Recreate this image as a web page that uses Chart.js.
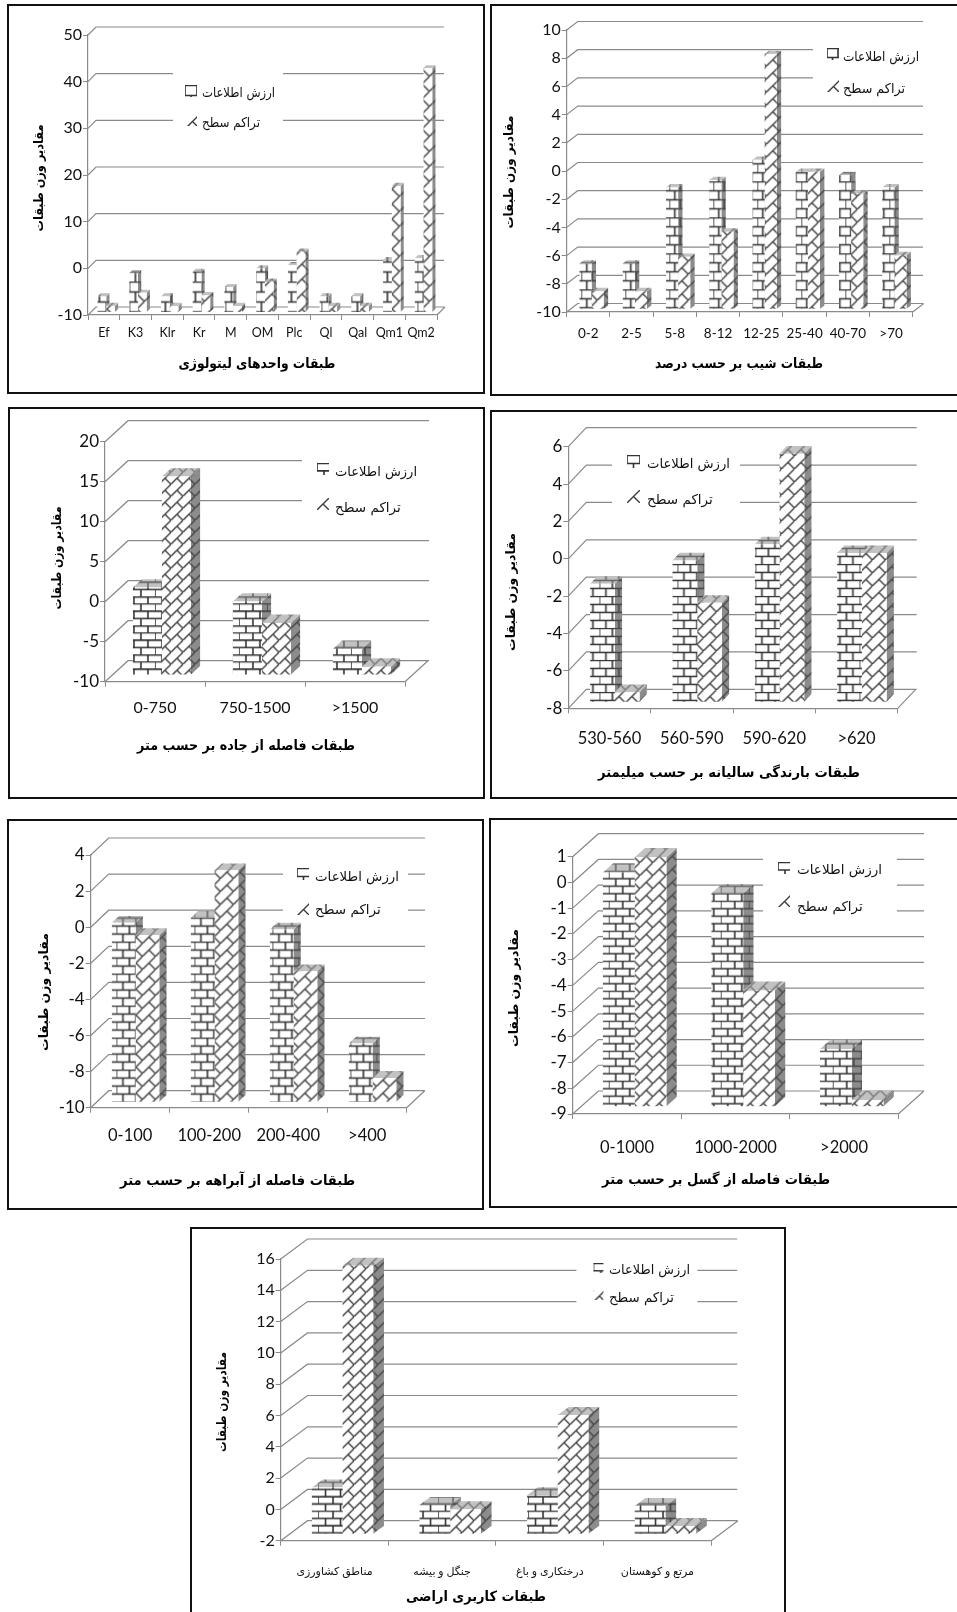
<!DOCTYPE html>
<html><head><meta charset="utf-8">
<style>
html,body{margin:0;padding:0;background:#fff;width:957px;height:1612px;overflow:hidden}
.panel{position:absolute;border:2px solid #111;box-sizing:border-box;background:#fff}
canvas{position:absolute;left:-2px;top:-2px;filter:blur(.3px)}
</style>
<script src="https://cdn.jsdelivr.net/npm/chart.js@4"></script>
</head><body>
<script>
// ---- data ----
const seriesInfo = "ارزش اطلاعات";
const seriesArea = "تراکم سطح";
const yAxisTitle = "مقادیر وزن طبقات";

const lithoCats = ["Ef","K3","Klr","Kr","M","OM","Plc","Ql","Qal","Qm1","Qm2"];
const lithoInfo = [-6.6,-1.6,-6.6,-1.3,-4.6,-0.6,0.1,-6.6,-6.6,1.2,1.6];
const lithoArea = [-8.6,-5.8,-8.6,-6.3,-8.6,-3.4,3.0,-8.6,-8.6,17.1,42.3];
const lithoTicks = [-10,0,10,20,30,40,50];

const slopeCats = ["0-2","2-5","5-8","8-12","12-25","25-40","40-70",">70"];
const slopeInfo = [-6.76,-6.76,-1.36,-0.84,0.6,-0.25,-0.49,-1.36];
const slopeArea = [-8.72,-8.72,-6.28,-4.5,8.1,-0.25,-1.8,-6.16];
const slopeTicks = [-10,-8,-6,-4,-2,0,2,4,6,8,10];

const roadCats = ["0-750","750-1500",">1500"];
const roadInfo = [0.92,-0.83,-6.75];
const roadArea = [14.8,-3.5,-8.96];
const roadTicks = [-10,-5,0,5,10,15,20];

const rainCats = ["530-560","560-590","590-620",">620"];
const rainInfo = [-1.66,-0.41,0.45,-0.02];
const rainArea = [-7.46,-2.68,5.3,-0.02];
const rainTicks = [-8,-6,-4,-2,0,2,4,6];

const drainCats = ["0-100","100-200","200-400",">400"];
const drainInfo = [-0.06,0.22,-0.43,-6.75];
const drainArea = [-0.74,2.85,-2.74,-8.65];
const drainTicks = [-10,-8,-6,-4,-2,0,2,4];

const faultCats = ["0-1000","1000-2000",">2000"];
const faultInfo = [0.1,-0.71,-6.76];
const faultArea = [0.69,-4.49,-8.74];
const faultTicks = [-9,-8,-7,-6,-5,-4,-3,-2,-1,0,1];

const landCats = ["مناطق کشاورزی","جنگل و بیشه","درختکاری و باغ","مرتع و کوهستان"];
const landInfo = [0.99,-0.12,0.49,-0.19];
const landArea = [15.16,-0.4,5.63,-1.47];
const landTicks = [-2,0,2,4,6,8,10,12,14,16];

// ---- layout of each framed panel, in page pixels ----
const panels = [
 {cats:lithoCats,info:lithoInfo,area:lithoArea,ticks:lithoTicks,xTitle:"طبقات واحدهای لیتولوژی",
  box:[7,4,478,390],ax:[88,437,35,315],depth:[8,8],right:444,pct:.55,tickFont:16,catFont:12.5,catY:332,
  yT:[40,178,107],xT:[257,364,157],brick:[12,10],diag:15,
  mask:[173,62,110,68],sw:185,swH:12,txtX:202,row1:[93,73],row2:[123,58],sw1Y:85,sw2Y:114},
 {cats:slopeCats,info:slopeInfo,area:slopeArea,ticks:slopeTicks,xTitle:"طبقات شیب بر حسب درصد",
  box:[490,4,480,392],ax:[566.7,912.7,30,312],depth:[11,8.5],right:923,pct:.56,tickFont:16,catFont:13.5,catY:333,
  yT:[510,172,113],xT:[739,364,168],brick:[11,9],diag:13,
  mask:[813,40,118,64],sw:827,swH:12,txtX:843,row1:[57,76],row2:[89,62],sw1Y:48,sw2Y:80},
 {cats:roadCats,info:roadInfo,area:roadArea,ticks:roadTicks,xTitle:"طبقات فاصله از جاده بر حسب متر",
  box:[8,407,477,392],ax:[105,405,441.7,681.7],depth:[23,21],right:429,pct:.58,tickFont:17,catFont:16,catY:707,
  yT:[58,558,103],xT:[246,746,218],brick:[14,7.4],diag:12,
  mask:[302,445,130,75],sw:317,swH:12,txtX:335,row1:[472,82],row2:[508,67],sw1Y:463,sw2Y:498},
 {cats:rainCats,info:rainInfo,area:rainArea,ticks:rainTicks,xTitle:"طبقات بارندگی سالیانه بر حسب میلیمتر",
  box:[490,410,480,389],ax:[568.3,897.7,446.7,708.3],depth:[18,19],right:916.7,pct:.6,tickFont:17,catFont:16.5,catY:738,
  yT:[512,592,128],xT:[729,773,262],brick:[13,8],diag:13,
  mask:[612,452,128,66],sw:627,swH:13,txtX:647,row1:[464,83],row2:[500,66],sw1Y:455,sw2Y:490},
 {cats:drainCats,info:drainInfo,area:drainArea,ticks:drainTicks,xTitle:"طبقات فاصله از آبراهه بر حسب متر",
  box:[7,819,477,391],ax:[90.7,406.7,855,1107.7],depth:[18,17],right:425,pct:.6,tickFont:17,catFont:16.5,catY:1135,
  yT:[45,992,123],xT:[237.5,1181,235],brick:[13,8],diag:13,
  mask:[283,860,125,64],sw:297,swH:12,txtX:315,row1:[877,84],row2:[910,68],sw1Y:868,sw2Y:903},
 {cats:faultCats,info:faultInfo,area:faultArea,ticks:faultTicks,xTitle:"طبقات فاصله از گسل بر حسب متر",
  box:[489,818,480,390],ax:[572.7,898.3,856.7,1114],depth:[25.7,23],right:924,pct:.585,tickFont:17,catFont:16.5,catY:1147,
  yT:[515,988,127],xT:[716,1180,228],brick:[14,7.5],diag:13,
  mask:[763,851,134,69],sw:778,swH:12,txtX:797,row1:[870,85],row2:[907,68],sw1Y:862,sw2Y:895},
 {cats:landCats,info:landInfo,area:landArea,ticks:landTicks,xTitle:"طبقات کاربری اراضی",
  box:[189.6,1227,596,400],ax:[280.3,710.8,1259,1540.7],depth:[26.8,20],right:736.8,pct:.57,tickFont:16,catFont:11,catY:1571,
  yT:[222,1402,100],xT:[475.6,1597,140],brick:[15,7.3],diag:12,
  mask:[576,1255,121,63],sw:593,swH:10,txtX:608.6,row1:[1270,81],row2:[1298,65],sw1Y:1263,sw2Y:1290},
];

// ---- fill patterns ----
function brickPattern(w,h,bg,ink){
  const c=document.createElement('canvas');c.width=w*2;c.height=h*4;
  const g=c.getContext('2d');g.fillStyle=bg;g.fillRect(0,0,c.width,c.height);
  g.strokeStyle=ink;g.lineWidth=1.6;g.beginPath();
  for(let r=0;r<4;r++){
    const y=r*h+.5;g.moveTo(0,y);g.lineTo(c.width,y);
    const off=(r%2)?w/2:0;
    for(let x=off;x<c.width;x+=w){g.moveTo(x,y);g.lineTo(x,y+h);}
  }
  g.stroke();
  return g.createPattern(c,'repeat');
}
function diagPattern(s,bg,ink){
  const c=document.createElement('canvas');c.width=s;c.height=s;
  const g=c.getContext('2d');g.fillStyle=bg;g.fillRect(0,0,s,s);
  g.strokeStyle=ink;g.lineWidth=1.4;g.beginPath();
  g.moveTo(-1,s+1);g.lineTo(s+1,-1);
  g.moveTo(s/2,s/2);g.lineTo(s+1,s+1);
  g.stroke();
  return g.createPattern(c,'repeat');
}

// ---- pseudo-3D look: back wall, floor, bar top and side faces, legend, titles ----
const depth3d={
  id:'depth3d',
  beforeDatasetsDraw(chart,args,o){
    const p=o.panel,ctx=chart.ctx,bx=p.box[0],by=p.box[1];
    const y=chart.scales.y,x=chart.scales.x,[D,Dy]=p.depth;
    ctx.save();ctx.strokeStyle='#8a8a8a';ctx.lineWidth=1.2;ctx.beginPath();
    y.ticks.forEach(t=>{
      const py=y.getPixelForValue(t.value);
      ctx.moveTo(x.left,py);ctx.lineTo(x.left+D,py-Dy);ctx.lineTo(p.right-bx,py-Dy);
    });
    ctx.moveTo(x.right,y.bottom);ctx.lineTo(x.right+D,y.bottom-Dy);
    ctx.stroke();
    // the white plate behind the legend interrupts the wall lines
    ctx.fillStyle='#fff';ctx.fillRect(p.mask[0]-bx,p.mask[1]-by,p.mask[2],p.mask[3]);
    // legend
    ctx.textAlign='left';ctx.textBaseline='middle';
    [[chart.data.datasets[0],p.row1,p.sw1Y],[chart.data.datasets[1],p.row2,p.sw2Y]].forEach(([ds,r,swY])=>{
      ctx.save();ctx.translate(p.sw-bx,swY-by);
      ctx.fillStyle=ds.backgroundColor;ctx.fillRect(0,0,p.swH,p.swH);ctx.restore();
      ctx.fillStyle='#111';ctx.font='13.5px "DejaVu Sans"';
      ctx.fillText(ds.label,p.txtX-bx,r[0]-by,r[1]);
    });
    // titles
    ctx.textAlign='center';ctx.font='bold 14px "DejaVu Sans"';ctx.fillStyle='#000';
    ctx.fillText(p.xTitle,p.xT[0]-bx,p.xT[1]-by,p.xT[2]);
    ctx.save();ctx.translate(p.yT[0]-bx,p.yT[1]-by);ctx.rotate(-Math.PI/2);
    ctx.font='bold 12.5px "DejaVu Sans"';ctx.fillText(yAxisTitle,0,0,p.yT[2]);ctx.restore();
    ctx.restore();
    // bars stand in the middle of the floor depth
    const ox=D*.3,oy=Dy*.32,bd=D*.4,bdy=Dy*.4;
    ctx.save();ctx.translate(ox,-oy);
    const metas=[chart.getDatasetMeta(0),chart.getDatasetMeta(1)];
    for(let i=0;i<p.cats.length;i++){
      metas.forEach((m,k)=>{
        const e=m.data[i].getProps(['x','y','base','width'],true);
        const l=e.x-e.width/2,r=e.x+e.width/2;
        ctx.fillStyle=o.side[k];ctx.beginPath();
        ctx.moveTo(r,e.y);ctx.lineTo(r+bd,e.y-bdy);ctx.lineTo(r+bd,e.base-bdy);ctx.lineTo(r,e.base);ctx.closePath();ctx.fill();
        ctx.fillStyle=o.top[k];ctx.beginPath();
        ctx.moveTo(l,e.y);ctx.lineTo(l+bd,e.y-bdy);ctx.lineTo(r+bd,e.y-bdy);ctx.lineTo(r,e.y);ctx.closePath();ctx.fill();
      });
    }
    ctx.restore();
    // library bars are drawn next with the same shift
    ctx.save();ctx.translate(ox,-oy);
  },
  afterDatasetsDraw(chart){chart.ctx.restore();}
};

panels.forEach(p=>{
  const [bx,by,bw,bh]=p.box,[x0,x1,yTop,yBot]=p.ax;
  const div=document.createElement('div');div.className='panel';
  div.style.cssText=`left:${bx}px;top:${by}px;width:${bw}px;height:${bh}px`;
  const cv=document.createElement('canvas');cv.width=bw;cv.height=bh;
  cv.style.width=bw+'px';cv.style.height=bh+'px';
  div.appendChild(cv);document.body.appendChild(div);
  const yW=44;
  const catPad=p.catY-yBot-p.catFont*.62-4;
  const [bw1,bh1]=p.brick;
  new Chart(cv,{
    type:'bar',
    data:{labels:p.cats,datasets:[
      {label:seriesInfo,data:p.info,base:p.ticks[0],backgroundColor:brickPattern(bw1,bh1,'#fff','#333')},
      {label:seriesArea,data:p.area,base:p.ticks[0],backgroundColor:diagPattern(p.diag,'#fff','#3a3a3a')},
    ]},
    options:{
      responsive:false,animation:false,devicePixelRatio:1,
      layout:{padding:{left:x0-bx-yW,right:bx+bw-x1,top:yTop-by,bottom:0}},
      datasets:{bar:{categoryPercentage:p.pct,barPercentage:1,borderWidth:0}},
      scales:{
        x:{type:'category',grid:{drawOnChartArea:false,tickLength:5,color:'#8a8a8a'},
           border:{color:'#8a8a8a',width:1.2},
           afterFit:s=>{s.height=by+bh-yBot;},
           ticks:{padding:catPad,maxRotation:0,autoSkip:false,color:'#111',font:{family:'Lato, "DejaVu Sans"',size:p.catFont}}},
        y:{type:'linear',min:p.ticks[0],max:p.ticks[p.ticks.length-1],
           afterBuildTicks:s=>{s.ticks=p.ticks.map(v=>({value:v}));},
           afterFit:s=>{s.width=yW;},
           grid:{drawOnChartArea:false,tickLength:5,color:'#8a8a8a'},
           border:{color:'#8a8a8a',width:1.2},
           ticks:{padding:1,color:'#111',font:{family:'Lato',size:p.tickFont}}}
      },
      plugins:{legend:{display:false},tooltip:{enabled:false},
        depth3d:{panel:p,
          side:[brickPattern(bw1,bh1,'#8c8c8c','#444'),diagPattern(p.diag,'#8c8c8c','#444')],
          top:[brickPattern(bw1,bh1,'#c2c2c2','#666'),diagPattern(p.diag,'#c2c2c2','#777')]}}
    },
    plugins:[depth3d]
  });
});
</script>
</body></html>
